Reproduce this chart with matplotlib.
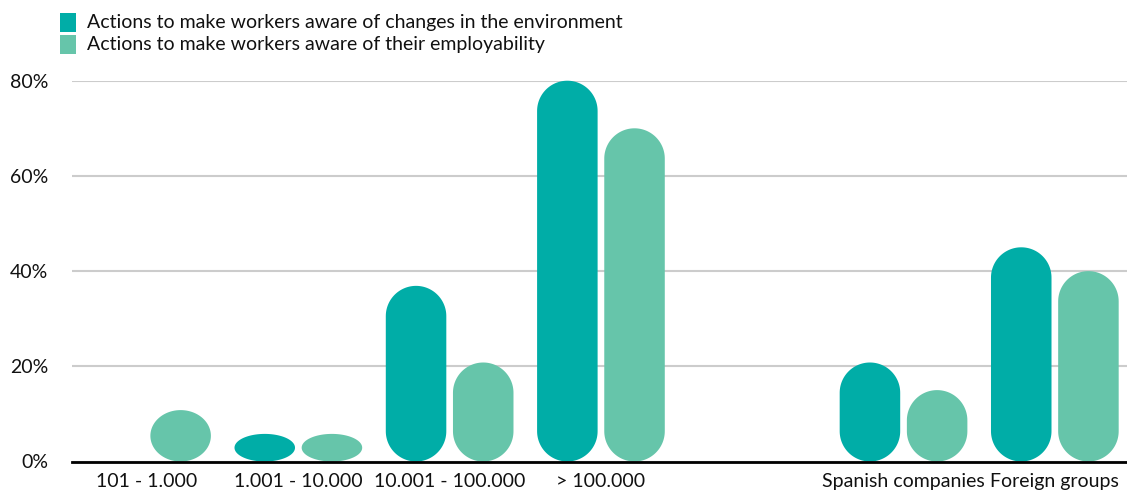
import numpy as np
import matplotlib.pyplot as plt
from matplotlib.patches import Polygon, Rectangle

# company size / ownership groups (blank slot separates the two blocks)
categories = ["101 - 1.000", "1.001 - 10.000", "10.001 - 100.000", "> 100.000",
              "", "Spanish companies", "Foreign groups"]
environment = [0, 5.8, 36.9, 80, None, 20.8, 45]
employability = [10.8, 5.8, 20.8, 70, None, 15, 40]
series_names = ["Actions to make workers aware of changes in the environment",
                "Actions to make workers aware of their employability"]
colors = ["#00ada7", "#66c5aa"]
yticks = [0, 20, 40, 60, 80]

plt.rcParams["font.family"] = ["Lato", "DejaVu Sans"]

W, H = 1127, 497
fig = plt.figure(figsize=(W / 100, H / 100), dpi=100)
ax = fig.add_axes([72 / W, 35.5 / H, (W - 72) / W, 380.8 / H])
ax.set_xlim(-0.496, 6.477)
ax.set_ylim(0, 80)

# pixels per data unit, used to keep the caps round
p0, p1 = ax.transData.transform([(0, 0), (1, 1)])
sx, sy = p1 - p0


def pill(xc, h, w, color):
    rx = w / 2
    ry = min(rx * sx / sy, h / 2)
    t = np.linspace(0, np.pi, 60)
    top = np.column_stack([xc + rx * np.cos(t), h - ry + ry * np.sin(t)])
    bot = np.column_stack([xc - rx * np.cos(t), ry - ry * np.sin(t)])
    ax.add_patch(Polygon(np.vstack([top, bot]), closed=True, facecolor=color,
                         edgecolor="none", clip_on=False, zorder=3))


bar_w = 0.4
offset = 0.222
x = np.arange(len(categories))
for vals, dx, c in [(environment, -offset, colors[0]), (employability, offset, colors[1])]:
    for xi, v in zip(x, vals):
        if v:
            pill(xi + dx, v, bar_w, c)

ax.set_yticks(yticks)
ax.set_yticklabels([f"{v}%" for v in yticks])
ax.yaxis.grid(True, color="#cccccc", linewidth=1.5)
ax.set_axisbelow(True)
ax.set_xticks(x)
ax.set_xticklabels(categories)
ax.tick_params(axis="y", length=0, pad=17, labelsize=14, labelcolor="#111111")
ax.tick_params(axis="x", length=0, pad=8, labelsize=14, labelcolor="#111111")
for s in ax.spines.values():
    s.set_visible(False)
ax.axhline(0, color="black", linewidth=2, zorder=4, clip_on=False)

# legend
for i, (name, c) in enumerate(zip(series_names, colors)):
    y0 = 1 - (13 + i * 22) / H
    fig.patches.append(Rectangle((60 / W, y0 - 19 / H), 15.5 / W, 19 / H,
                                 transform=fig.transFigure, facecolor=c, edgecolor="none"))
    fig.text(87 / W, y0 - 9.5 / H, name, fontsize=14, va="center", ha="left", color="#111111")

fig.savefig("out.png", dpi=100)
